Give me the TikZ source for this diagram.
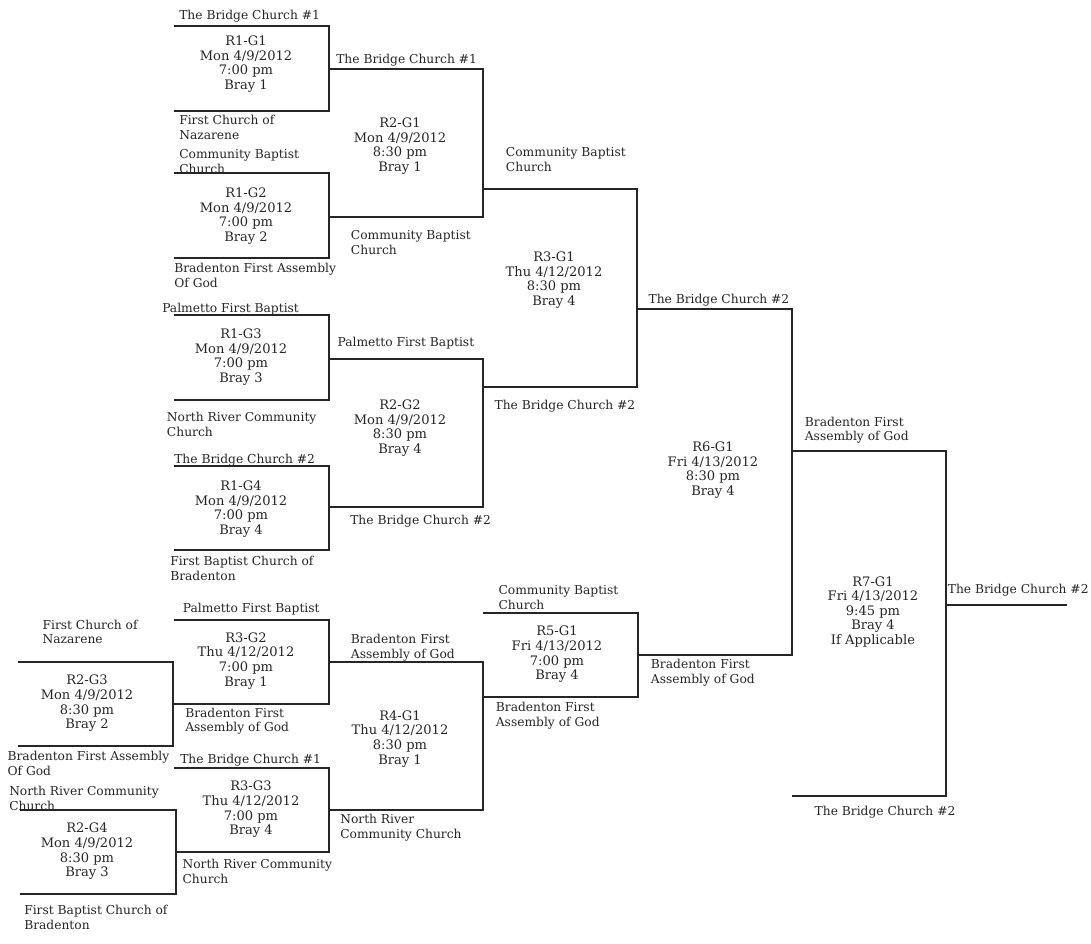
\documentclass[tikz,border=0pt]{standalone}
\usepackage{fontspec}
\setmainfont{DejaVu Serif}
\usepackage{tikz}
\tikzset{
  bracket/.style={draw=black!85, line width=1.1pt},
  game/.style={align=center, inner sep=0pt, yshift=-1pt, text=black!85, font=\fontsize{9.8}{10.9}\selectfont},
  team/.style={anchor=west, align=left, inner sep=0pt, yshift=-1pt, text=black!85, font=\fontsize{9.2}{10.9}\selectfont},
}

\begin{document}
\begin{tikzpicture}[x=0.75pt, y=-0.75pt]
  \useasboundingbox (0,0) rectangle (1091,944);
  \draw[bracket] (174,26) -| (329,111) -- (174,111);
  \draw[bracket] (174,173) -| (329,258) -- (174,258);
  \draw[bracket] (329,69) -| (483,217) -- (329,217);
  \draw[bracket] (174,315) -| (329,400) -- (174,400);
  \draw[bracket] (174,466) -| (329,550) -- (174,550);
  \draw[bracket] (329,359) -| (483,507) -- (329,507);
  \draw[bracket] (483,189) -| (637,387) -- (483,387);
  \draw[bracket] (637,309) -| (792,655) -- (637,655);
  \draw[bracket] (792,451) -| (946,796) -- (792,796);
  \draw[bracket] (946,605) -- (1067,605);
  \draw[bracket] (18,662) -| (173,746) -- (18,746);
  \draw[bracket] (174,620) -| (329,704) -- (173,704);
  \draw[bracket] (20,810) -| (176,894) -- (20,894);
  \draw[bracket] (174,768) -| (329,852) -- (176,852);
  \draw[bracket] (329,662) -| (483,810) -- (329,810);
  \draw[bracket] (483,613) -| (638,697) -- (483,697);

  \node[game] (r1g1) at (246,63) {R1-G1\\Mon 4/9/2012\\7:00 pm\\Bray 1};
  \node[game] (r1g2) at (246,215) {R1-G2\\Mon 4/9/2012\\7:00 pm\\Bray 2};
  \node[game] (r2g1) at (400,145) {R2-G1\\Mon 4/9/2012\\8:30 pm\\Bray 1};
  \node[game] (r1g3) at (241,356) {R1-G3\\Mon 4/9/2012\\7:00 pm\\Bray 3};
  \node[game] (r2g2) at (400,427) {R2-G2\\Mon 4/9/2012\\8:30 pm\\Bray 4};
  \node[game] (r1g4) at (241,508) {R1-G4\\Mon 4/9/2012\\7:00 pm\\Bray 4};
  \node[game] (r3g1) at (554,279) {R3-G1\\Thu 4/12/2012\\8:30 pm\\Bray 4};
  \node[game] (r6g1) at (713,469) {R6-G1\\Fri 4/13/2012\\8:30 pm\\Bray 4};
  \node[game] (r3g2) at (246,659.5) {R3-G2\\Thu 4/12/2012\\7:00 pm\\Bray 1};
  \node[game] (r2g3) at (87,702) {R2-G3\\Mon 4/9/2012\\8:30 pm\\Bray 2};
  \node[game] (r4g1) at (400,737.5) {R4-G1\\Thu 4/12/2012\\8:30 pm\\Bray 1};
  \node[game] (r3g3) at (251,808) {R3-G3\\Thu 4/12/2012\\7:00 pm\\Bray 4};
  \node[game] (r2g4) at (87,850) {R2-G4\\Mon 4/9/2012\\8:30 pm\\Bray 3};
  \node[game] (r5g1) at (557,653) {R5-G1\\Fri 4/13/2012\\7:00 pm\\Bray 4};
  \node[game] (r7g1) at (873,610.5) {R7-G1\\Fri 4/13/2012\\9:45 pm\\Bray 4\\If Applicable};

  \node[team] (r1g1top) at (179,14.7) {The Bridge Church \#1};
  \node[team] (r1g1bot) at (179,126) {First Church of\\Nazarene};
  \node[team] (r1g2top) at (179,160) {Community Baptist\\Church};
  \node[team] (r1g2bot) at (174,274) {Bradenton First Assembly\\Of God};
  \node[team] (r2g1top) at (336,58.7) {The Bridge Church \#1};
  \node[team] (r2g1bot) at (350.7,241) {Community Baptist\\Church};
  \node[team] (r3g1top) at (505.7,158) {Community Baptist\\Church};
  \node[team] (r3g1bot) at (494.3,405.3) {The Bridge Church \#2};
  \node[team] (r6g1top) at (648.3,299) {The Bridge Church \#2};
  \node[team] (r1g3top) at (162,307.3) {Palmetto First Baptist};
  \node[team] (r1g3bot) at (166.7,423) {North River Community\\Church};
  \node[team] (r2g2top) at (337.3,341.7) {Palmetto First Baptist};
  \node[team] (r1g4top) at (174,459.3) {The Bridge Church \#2};
  \node[team] (r2g2bot) at (350,520) {The Bridge Church \#2};
  \node[team] (r1g4bot) at (170,567) {First Baptist Church of\\Bradenton};
  \node[team] (r3g2top) at (182.7,607.3) {Palmetto First Baptist};
  \node[team] (r2g3top) at (42.3,630.5) {First Church of\\Nazarene};
  \node[team] (r4g1top) at (350.7,646.3) {Bradenton First\\Assembly of God};
  \node[team] (r3g2bot) at (185,719.7) {Bradenton First\\Assembly of God};
  \node[team] (r2g3bot) at (7.3,762.3) {Bradenton First Assembly\\Of God};
  \node[team] (r3g3top) at (180,759) {The Bridge Church \#1};
  \node[team] (r2g4top) at (9,797) {North River Community\\Church};
  \node[team] (r4g1bot) at (340,826.5) {North River\\Community Church};
  \node[team] (r3g3bot) at (182.3,870) {North River Community\\Church};
  \node[team] (r2g4bot) at (24,916) {First Baptist Church of\\Bradenton};
  \node[team] (r7g1top) at (804.6,429) {Bradenton First\\Assembly of God};
  \node[team] (r5g1top) at (498.3,596.3) {Community Baptist\\Church};
  \node[team] (champ) at (947.6,589.3) {The Bridge Church \#2};
  \node[team] (r6g1bot) at (650.7,671.3) {Bradenton First\\Assembly of God};
  \node[team] (r5g1bot) at (495.6,714.5) {Bradenton First\\Assembly of God};
  \node[team] (r7g1bot) at (814.4,811) {The Bridge Church \#2};
\end{tikzpicture}
\end{document}
